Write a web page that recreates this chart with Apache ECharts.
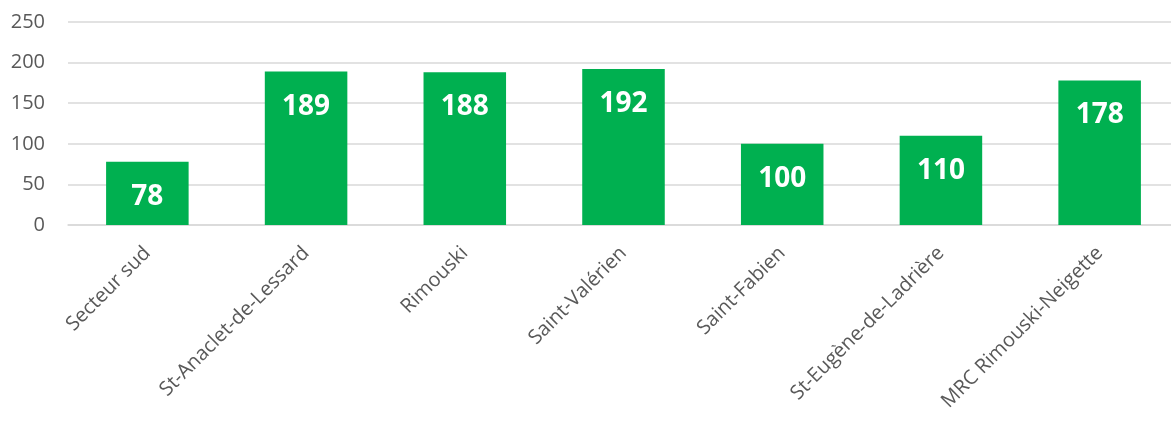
<!DOCTYPE html>
<html>
<head>
<meta charset="utf-8">
<script src="https://cdn.jsdelivr.net/npm/echarts@6/dist/echarts.min.js"></script>
<style>
  html, body { margin: 0; padding: 0; background: #fff; overflow: hidden; }
  /* la zone du graphique dépasse légèrement à droite, comme dans l'original */
  #chart { width: 1179px; height: 421px; }
</style>
</head>
<body>
<div id="chart"></div>
<script>
// données du graphique
const categories = ["Secteur sud", "St-Anaclet-de-Lessard", "Rimouski", "Saint-Valérien", "Saint-Fabien", "St-Eugène-de-Ladrière", "MRC Rimouski-Neigette"];
const values = [78, 189, 188, 192, 100, 110, 178];
const yTicks = [0, 50, 100, 150, 200, 250];

const font = "'Open Sans', 'Liberation Sans', sans-serif";
const textColor = "#595959";

const myChart = echarts.init(document.getElementById("chart"));
myChart.setOption({
  animation: false,
  grid: { left: 68, right: 0, top: 22, bottom: 196, containLabel: false },
  xAxis: {
    type: "category",
    data: categories,
    axisLine: { lineStyle: { color: "#d9d9d9", width: 1.5 } },
    axisTick: { show: false },
    axisLabel: {
      rotate: 45,
      interval: 0,
      margin: 25,
      color: textColor,
      fontFamily: font,
      fontSize: 20
    }
  },
  yAxis: {
    type: "value",
    min: yTicks[0],
    max: yTicks[yTicks.length - 1],
    interval: yTicks[1] - yTicks[0],
    axisLine: { show: false },
    axisTick: { show: false },
    splitLine: { lineStyle: { color: "#d9d9d9", width: 1.5 } },
    axisLabel: {
      margin: 23,
      color: textColor,
      fontFamily: font,
      fontSize: 20
    }
  },
  series: [
    {
      type: "bar",
      data: values,
      barWidth: "52%",
      itemStyle: { color: "#00b050" },
      label: {
        show: true,
        position: "insideTop",
        distance: 21,
        color: "#fff",
        fontFamily: font,
        fontWeight: "bold",
        fontSize: 28
      }
    }
  ]
});
</script>
</body>
</html>
